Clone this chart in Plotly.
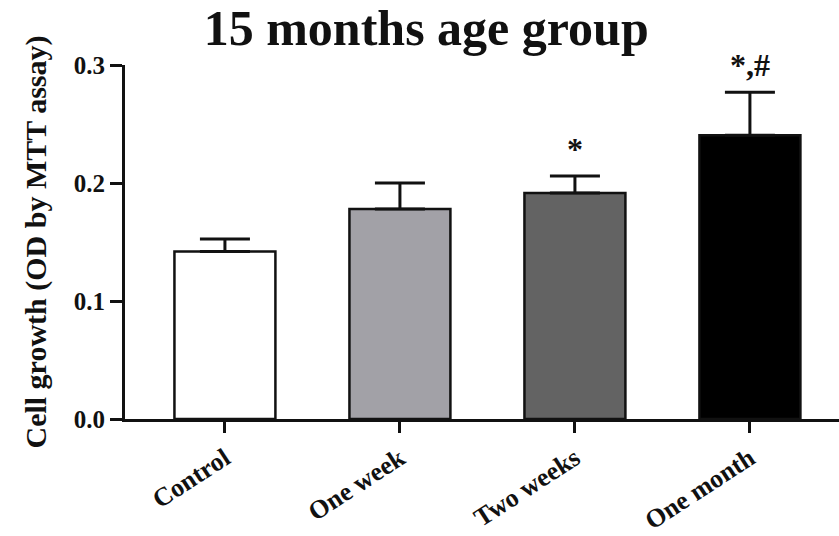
import plotly.graph_objects as go

# Cell growth by treatment duration (15 months age group)
groups = ["Control", "One week", "Two weeks", "One month"]
means = [0.142, 0.178, 0.1915, 0.2405]
sem = [0.0105, 0.022, 0.0145, 0.0365]
significance = ["", "", "*", "*,#"]
bar_colors = ["#ffffff", "#a2a1a7", "#636363", "#000000"]
y_ticks = [0.0, 0.1, 0.2, 0.3]

serif = "Liberation Serif"
ink = "#111111"
positions = list(range(len(groups)))

fig = go.Figure()
fig.add_trace(go.Bar(
    x=positions,
    y=means,
    width=0.577,
    marker=dict(color=bar_colors, line=dict(color=ink, width=2.5)),
    error_y=dict(type="data", symmetric=False, array=sem,
                 arrayminus=[0] * len(sem), color=ink,
                 thickness=3, width=25),
    cliponaxis=False,
    showlegend=False,
))

# significance marks above the error bars
for xi, m, e, s in zip(positions, means, sem, significance):
    if s:
        fig.add_annotation(x=xi, y=m + e, text=f"<b>{s}</b>", showarrow=False,
                           yanchor="bottom", yshift=7,
                           font=dict(family=serif, size=32, color=ink))

fig.update_layout(
    width=839, height=536,
    margin=dict(l=125, r=0, t=65, b=117),
    paper_bgcolor="white", plot_bgcolor="white",
    title=dict(text="<b>15 months age group</b>", x=0.508, xanchor="center",
               y=0.948, yanchor="middle",
               font=dict(family=serif, size=50, color=ink)),
    font=dict(family=serif, color=ink),
)

fig.update_xaxes(
    range=[-0.571, 3.509],
    tickvals=positions,
    ticktext=[f"<b>{g}</b>" for g in groups],
    tickangle=-33,
    tickfont=dict(family=serif, size=26, color=ink),
    showline=True, linecolor=ink, linewidth=3,
    ticks="outside", ticklen=11, tickwidth=3, tickcolor=ink,
    showgrid=False, zeroline=False,
)

fig.update_yaxes(
    range=[0, 0.3],
    tickvals=y_ticks,
    ticktext=[f"<b>{v:.1f}</b>" for v in y_ticks],
    tickfont=dict(family=serif, size=25, color=ink),
    showline=True, linecolor=ink, linewidth=3,
    ticks="outside", ticklen=12, tickwidth=3, tickcolor=ink,
    showgrid=False, zeroline=False,
    title=dict(text="<b>Cell growth (OD by MTT assay)</b>",
               font=dict(family=serif, size=30, color=ink),
               standoff=19),
)

fig.write_html("out.html")
